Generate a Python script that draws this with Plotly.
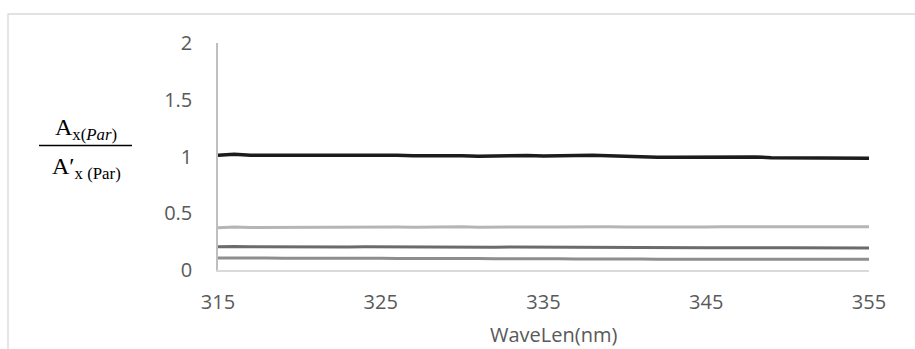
import plotly.graph_objects as go

# Wavelength grid (nm)
wavelength = list(range(315, 356))

# Absorbance ratios for the four mixtures
ratio_1 = [1.010, 1.020, 1.012, 1.013, 1.012, 1.015, 1.018, 1.012, 1.010, 1.012,
           1.008, 1.010, 1.006, 1.008, 1.004, 1.007, 1.003, 1.006, 1.002, 1.008,
           1.005, 1.010, 1.008, 1.011, 1.007, 0.996, 0.995, 0.994, 0.993, 0.994,
           0.992, 0.990, 0.994, 0.996, 0.990, 0.988, 0.990, 0.988, 0.986, 0.985,
           0.984]
ratio_2 = [0.372, 0.378, 0.374, 0.375, 0.376, 0.374, 0.377, 0.378, 0.375, 0.379,
           0.377, 0.378, 0.376, 0.379, 0.378, 0.380, 0.377, 0.379, 0.378, 0.380,
           0.379, 0.378, 0.380, 0.379, 0.381, 0.379, 0.378, 0.380, 0.381, 0.380,
           0.379, 0.381, 0.380, 0.381, 0.379, 0.381, 0.382, 0.380, 0.381, 0.380,
           0.381]
ratio_3 = [0.205, 0.208, 0.204, 0.203, 0.205, 0.206, 0.203, 0.205, 0.202, 0.204,
           0.203, 0.205, 0.202, 0.203, 0.204, 0.202, 0.203, 0.201, 0.203, 0.202,
           0.200, 0.202, 0.201, 0.199, 0.200, 0.198, 0.197, 0.198, 0.196, 0.197,
           0.196, 0.197, 0.195, 0.196, 0.195, 0.196, 0.195, 0.194, 0.195, 0.194,
           0.194]
ratio_4 = [0.105, 0.107, 0.104, 0.105, 0.103, 0.104, 0.102, 0.103, 0.104, 0.102,
           0.103, 0.101, 0.102, 0.104, 0.101, 0.100, 0.101, 0.099, 0.100, 0.099,
           0.098, 0.099, 0.097, 0.098, 0.096, 0.097, 0.096, 0.095, 0.096, 0.095,
           0.096, 0.095, 0.094, 0.095, 0.094, 0.095, 0.094, 0.095, 0.094, 0.094,
           0.094]

x_ticks = [315, 325, 335, 345, 355]
y_ticks = [0, 0.5, 1, 1.5, 2]
y_tick_text = ["0", "0.5", "1", "1.5", "2"]

series = [
    (ratio_2, "#b5b5b5", 3),
    (ratio_3, "#6b6b6b", 3),
    (ratio_4, "#8e8e8e", 3),
    (ratio_1, "#1c1c1c", 3.5),
]

fig = go.Figure()
for values, color, width in series:
    fig.add_trace(go.Scatter(
        x=wavelength, y=values, mode="lines",
        line=dict(color=color, width=width), showlegend=False,
        hoverinfo="skip",
    ))

W, H = 915, 349
L, R, T, B = 218, 46, 43, 79
pw, ph = W - L - R, H - T - B


def px(x):
    return (x - L) / pw


def py(y):
    return (H - B - y) / ph


tick_font = dict(family="Open Sans", size=20, color="#595959")
serif = "Liberation Serif"

fig.update_layout(
    width=W, height=H,
    margin=dict(l=L, r=R, t=T, b=B, pad=0),
    paper_bgcolor="white", plot_bgcolor="white",
    xaxis=dict(
        range=[315, 355], tickvals=x_ticks, ticktext=[str(v) for v in x_ticks],
        showgrid=False, zeroline=False, showline=True, linecolor="#d9d9d9",
        linewidth=1.5, ticks="", tickfont=tick_font, ticklabelstandoff=13,
    ),
    yaxis=dict(
        range=[0, 2], tickvals=y_ticks, ticktext=y_tick_text,
        showgrid=False, zeroline=False, showline=True, linecolor="#bfbfbf",
        linewidth=1.5, ticks="", tickfont=tick_font, ticklabelstandoff=20,
    ),
    shapes=[
        # chart frame
        dict(type="rect", xref="paper", yref="paper",
             x0=px(8), x1=px(925), y0=py(14), y1=py(360),
             line=dict(color="#d9d9d9", width=1.3), layer="below"),
        # fraction bar of the axis title
        dict(type="line", xref="paper", yref="paper",
             x0=px(39), x1=px(132), y0=py(145.5), y1=py(145.5),
             line=dict(color="#000000", width=1.5)),
    ],
    annotations=[
        dict(text="WaveLen(nm)", xref="paper", yref="paper",
             x=px(553), y=py(334), showarrow=False,
             xanchor="center", yanchor="middle",
             font=dict(family="Open Sans", size=20, color="#595959")),
        dict(text="A<sub>x(<i>Par</i>)</sub>", xref="paper", yref="paper",
             x=px(86), y=py(129), showarrow=False,
             xanchor="center", yanchor="middle",
             font=dict(family=serif, size=24, color="#000000")),
        dict(text="A′<sub>x (Par)</sub>", xref="paper", yref="paper",
             x=px(86), y=py(168), showarrow=False,
             xanchor="center", yanchor="middle",
             font=dict(family=serif, size=24, color="#000000")),
    ],
)

fig.write_html("out.html")
